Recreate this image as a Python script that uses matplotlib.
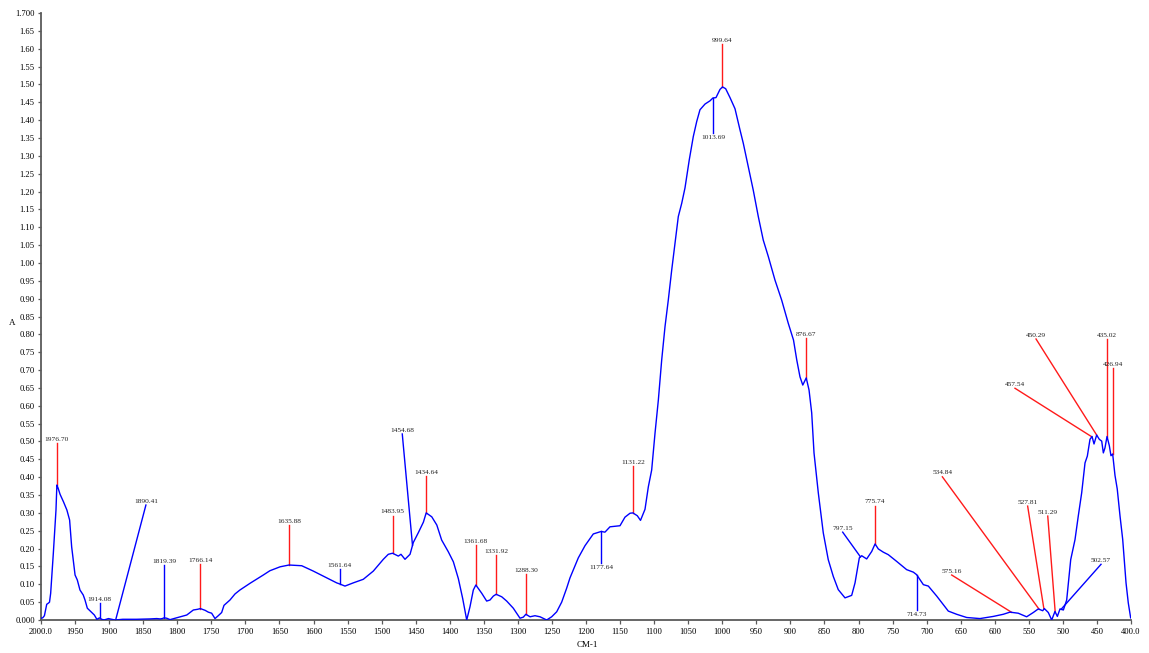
import numpy as np
import matplotlib
matplotlib.use("Agg")
import matplotlib.pyplot as plt

# ---------------- data ----------------
wavenumber = [
    2000, 1997.5, 1995, 1991.6, 1989.3, 1987.5, 1985.8, 1981.9, 1978, 1976.7, 1975, 1972, 1967, 1962,
    1958, 1955, 1950, 1946.7, 1942.8, 1938, 1935.4, 1932, 1925.6, 1921.7, 1918, 1914.1, 1911, 1907.5,
    1901, 1896, 1891.4, 1880, 1860, 1840, 1830, 1825, 1822, 1819.4, 1815.5, 1810.6, 1803, 1793.5,
    1786, 1776.4, 1770, 1766.1, 1759, 1754.4, 1749.5, 1744.6, 1739.8, 1734.8, 1731.4, 1722.6, 1715.2,
    1708, 1693, 1673.7, 1664, 1649, 1635.9, 1617.3, 1600.3, 1580.6, 1566, 1561.6, 1553.8, 1541.6,
    1526.9, 1512.2, 1497.5, 1490.2, 1484, 1475.5, 1471.6, 1465.7, 1458.3, 1453.5, 1446, 1438.7,
    1434.6, 1426.4, 1419, 1411.9, 1402.1, 1394.7, 1387.4, 1381, 1375.1, 1370.3, 1365.4, 1361.7,
    1353.1, 1345.8, 1340.9, 1336, 1331.9, 1323.7, 1316.4, 1306.7, 1296.9, 1292, 1288.3, 1282.2,
    1274.9, 1267.5, 1257.7, 1250.4, 1243, 1235.7, 1228.4, 1223.5, 1211.3, 1201.5, 1189.3, 1177.6,
    1172.2, 1164.8, 1150.1, 1142.8, 1135.4, 1131.2, 1124.7, 1120, 1113.4, 1108.5, 1103.6, 1098.7,
    1093.8, 1088.9, 1084, 1079.2, 1074.2, 1069.4, 1064.5, 1059.5, 1054.7, 1048.4, 1042.5, 1037.5,
    1032.7, 1025.3, 1018, 1013.7, 1009.2, 1003.3, 999.6, 995, 988.6, 981.3, 974, 969.1, 961.8, 954.5,
    947.1, 939.8, 932.4, 922.6, 912.8, 903.1, 895.4, 890.6, 885.9, 881.8, 876.7, 872.6, 868.7, 865.3,
    859, 851.7, 844.4, 837, 829.7, 819.8, 810, 805.1, 798.8, 795.3, 788, 780.6, 775.7, 770.9, 763.6,
    756.3, 743.9, 729.3, 719.5, 714.7, 704.8, 697.5, 685.2, 668.2, 655.9, 641.2, 621.7, 602.2, 587.5,
    577.7, 565.5, 553.2, 543.4, 536.1, 529.6, 527.2, 521.4, 516.4, 511.6, 508.1, 504.2, 499.3, 494.4,
    488.5, 482.2, 477.4, 472.4, 467.5, 464.1, 460.2, 457.2, 454.3, 450.4, 446.5, 443, 440.6, 438.2,
    435.2, 431.8, 429.4, 426.9, 423.5, 420.2, 416.1, 412.2, 407.3, 404, 400.5,
]
absorbance = [
    0.005, 0.006, 0.012, 0.044, 0.047, 0.050, 0.075, 0.187, 0.308, 0.378, 0.370, 0.352, 0.331, 0.308,
    0.280, 0.205, 0.126, 0.112, 0.084, 0.070, 0.056, 0.033, 0.021, 0.014, 0.002, 0.006, 0.002, 0.000,
    0.004, 0.002, 0.000, 0.002, 0.002, 0.003, 0.004, 0.003, 0.004, 0.006, 0.005, 0.001, 0.005, 0.010,
    0.014, 0.028, 0.030, 0.032, 0.027, 0.022, 0.019, 0.004, 0.012, 0.021, 0.041, 0.056, 0.073,
    0.084, 0.103, 0.126, 0.138, 0.149, 0.154, 0.152, 0.137, 0.118, 0.104, 0.101, 0.095, 0.104,
    0.114, 0.137, 0.170, 0.184, 0.187, 0.179, 0.184, 0.170, 0.184, 0.217, 0.245, 0.274,
    0.300, 0.289, 0.266, 0.224, 0.191, 0.163, 0.116, 0.060, 0.000, 0.037, 0.084, 0.098,
    0.075, 0.053, 0.056, 0.067, 0.072, 0.065, 0.053, 0.033, 0.005, 0.008, 0.016, 0.009,
    0.012, 0.009, 0.000, 0.009, 0.023, 0.050, 0.089, 0.118, 0.174, 0.208, 0.241, 0.248,
    0.246, 0.261, 0.264, 0.288, 0.299, 0.300, 0.292, 0.279, 0.310, 0.373, 0.420, 0.523,
    0.616, 0.728, 0.822, 0.896, 0.980, 1.055, 1.130, 1.167, 1.210, 1.289, 1.354, 1.396,
    1.429, 1.445, 1.454, 1.462, 1.463, 1.486, 1.493, 1.488, 1.463, 1.432, 1.373, 1.335, 1.270, 1.204,
    1.130, 1.064, 1.018, 0.952, 0.896, 0.831, 0.784, 0.728, 0.681, 0.658, 0.678, 0.644, 0.580, 0.468,
    0.356, 0.244, 0.169, 0.122, 0.085, 0.062, 0.069, 0.104, 0.174, 0.180, 0.171, 0.192, 0.213, 0.199, 0.190,
    0.183, 0.164, 0.141, 0.134, 0.127, 0.099, 0.095, 0.067, 0.025, 0.016, 0.007, 0.004, 0.010, 0.016,
    0.022, 0.019, 0.009, 0.021, 0.031, 0.026, 0.032, 0.021, 0.000, 0.024, 0.010, 0.031, 0.028, 0.056,
    0.169, 0.225, 0.291, 0.356, 0.440, 0.459, 0.506, 0.514, 0.493, 0.518, 0.506, 0.501, 0.468, 0.482,
    0.514, 0.488, 0.460, 0.465, 0.405, 0.367, 0.291, 0.226, 0.104, 0.048, 0.006,
]

# peak annotations: label, peak wavenumber, leader end (x, y), colour, label side
peak_labels = ["1976.70", "1914.08", "1890.41", "1819.39", "1766.14", "1635.88", "1561.64",
               "1483.95", "1454.68", "1434.64", "1361.68", "1331.92", "1288.30", "1177.64",
               "1131.22", "1013.69", "999.64", "876.67", "797.15", "775.74", "714.73", "575.16",
               "534.84", "527.81", "511.29", "502.57", "457.54", "450.29", "435.02", "426.94"]
peak_pos = [1976.70, 1914.08, 1890.41, 1819.39, 1766.14, 1635.88, 1561.64,
            1483.95, 1454.68, 1434.64, 1361.68, 1331.92, 1288.30, 1177.64,
            1131.22, 1013.69, 999.64, 876.67, 797.15, 775.74, 714.73, 575.16,
            534.84, 527.81, 511.29, 502.57, 457.54, 450.29, 435.02, 426.94]
leader_x = [1976.70, 1914.08, 1846.0, 1819.39, 1766.14, 1635.88, 1561.64,
            1483.95, 1469.7, 1434.64, 1361.68, 1331.92, 1288.30, 1177.64,
            1131.22, 1013.69, 999.64, 876.67, 823.2, 775.74, 714.73, 663.2,
            676.9, 551.7, 522.2, 444.0, 570.3, 539.4, 435.02, 426.94]
leader_y = [0.495, 0.047, 0.322, 0.154, 0.157, 0.266, 0.142,
            0.292, 0.521, 0.403, 0.210, 0.182, 0.129, 0.160,
            0.430, 1.363, 1.613, 0.789, 0.246, 0.320, 0.028, 0.126,
            0.401, 0.319, 0.291, 0.156, 0.649, 0.787, 0.787, 0.705]
leader_color = ["r", "b", "b", "b", "r", "r", "b",
                "r", "b", "r", "r", "r", "r", "b",
                "r", "b", "r", "r", "b", "r", "b", "r",
                "r", "r", "r", "b", "r", "r", "r", "r"]
label_below = [False] * 13 + [True, False, True, False, False, False, False, True] + [False] * 9

x_ticks = list(range(2000, 399, -50))
y_ticks = [round(0.05 * i, 2) for i in range(35)]

# ---------------- figure ----------------
plt.rcParams["font.family"] = ["Liberation Serif", "DejaVu Serif"]
W, H = 1149, 653
fig = plt.figure(figsize=(W / 100, H / 100), dpi=100)
ax = fig.add_axes([41 / W, 1 - 620 / H, (1131 - 41) / W, (620 - 13) / H])

BLUE = "#0000ff"
RED = "#ff1a1a"
ax.plot(wavenumber, absorbance, color=BLUE, lw=1.0, zorder=3)

wn_inc = np.array(wavenumber[::-1])
ab_inc = np.array(absorbance[::-1])
for lab, px, lx, ly, c, below in zip(peak_labels, peak_pos, leader_x, leader_y,
                                     leader_color, label_below):
    py = float(np.interp(px, wn_inc, ab_inc))
    col = RED if c == "r" else BLUE
    ax.plot([px, lx], [py, ly], color=col, lw=1.0, zorder=2, clip_on=False)
    if below:
        ax.annotate(lab, (lx, ly), xytext=(0, -1.5), textcoords="offset points",
                    ha="center", va="top", fontsize=5.3, color="#222222")
    else:
        ax.annotate(lab, (lx, ly), xytext=(0, 1.0), textcoords="offset points",
                    ha="center", va="bottom", fontsize=5.3, color="#222222")

ax.set_xlim(2000, 400)
ax.set_ylim(0, 1.7)
ax.set_xticks(x_ticks)
ax.set_xticklabels([("%.1f" % t) if t in (2000, 400) else str(t) for t in x_ticks])
ax.set_yticks(y_ticks)
ax.set_yticklabels([("%.3f" % t) if i in (0, len(y_ticks) - 1) else ("%.2f" % t)
                    for i, t in enumerate(y_ticks)])

for s in ("top", "right"):
    ax.spines[s].set_visible(False)
for s in ("left", "bottom"):
    ax.spines[s].set_color("#5a5a5a")
    ax.spines[s].set_linewidth(1.3)
ax.tick_params(axis="both", colors="#5a5a5a", labelcolor="black", labelsize=6.2,
               width=0.9, direction="out")
ax.tick_params(axis="y", length=2.5, pad=2)
ax.tick_params(axis="x", length=3, pad=2.5)

fig.text(12 / W, 1 - 323 / H, "A", ha="center", va="center", fontsize=6.5)
fig.text(587 / W, 1 - 645 / H, "CM-1", ha="center", va="center", fontsize=6.5)

fig.savefig("out.png", dpi=100)
